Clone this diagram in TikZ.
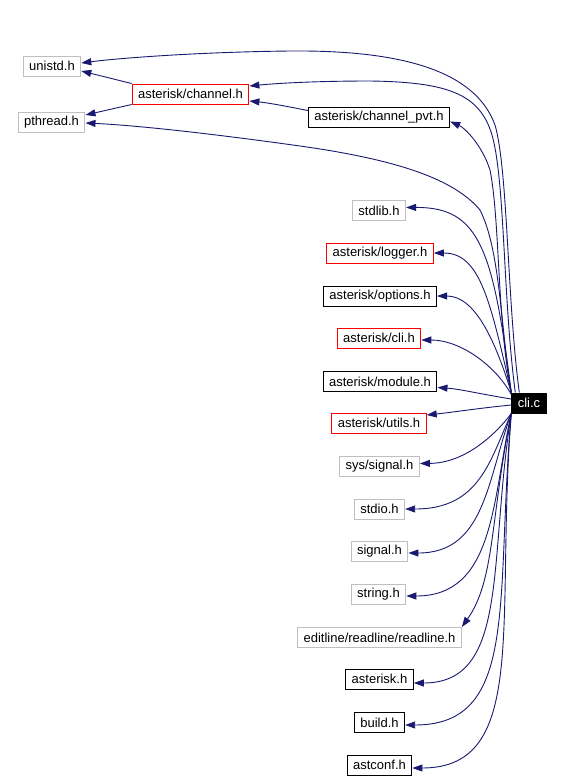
\documentclass[tikz,border=0pt]{standalone}
\usepackage{fontspec}
\setmainfont{Liberation Sans}
\usetikzlibrary{arrows.meta}
\definecolor{edgeblue}{HTML}{191970}
\definecolor{boxgray}{HTML}{BFBFBF}
\tikzset{
  file/.style={draw=#1,line width=1pt,minimum height=20pt,inner xsep=6pt,inner ysep=0pt,
    font=\fontsize{13}{15}\selectfont},
  file/.default=black,
  dep/.style={edgeblue,line width=0.9pt,-{Triangle[length=10pt,width=7pt]}}
}
\begin{document}
\begin{tikzpicture}[x=1pt,y=-1pt]
  \useasboundingbox (0,0) rectangle (572,780);
  % included files
  \node[file=boxgray] (unistd) at (52,66) {unistd.h};
  \node[file=boxgray] (pthread) at (51.5,122) {pthread.h};
  \node[file=red] (channel) at (190.5,94) {asterisk/channel.h};
  \node[file] (chanpvt) at (379,117.5) {asterisk/channel\_pvt.h};
  \node[file=boxgray] (stdlib) at (379,210.5) {stdlib.h};
  \node[file=red] (logger) at (380,253) {asterisk/logger.h};
  \node[file] (options) at (380,296) {asterisk/options.h};
  \node[file=red] (clih) at (379,338) {asterisk/cli.h};
  \node[file] (module) at (380,381.5) {asterisk/module.h};
  \node[file=red] (utils) at (379,423) {asterisk/utils.h};
  \node[file=boxgray] (syssignal) at (379.5,466.5) {sys/signal.h};
  \node[file=boxgray] (stdio) at (379.5,509) {stdio.h};
  \node[file=boxgray] (signal) at (379.5,551.5) {signal.h};
  \node[file=boxgray] (string) at (378.5,594) {string.h};
  \node[file=boxgray] (readline) at (379.5,637.5) {editline/readline/readline.h};
  \node[file] (asterisk) at (379.5,679) {asterisk.h};
  \node[file] (build) at (379.5,722.5) {build.h};
  \node[file] (astconf) at (379.5,765) {astconf.h};
  \node[file,fill=black,text=white] (cli) at (529,403) {cli.c};
  % edges between headers
  \draw[dep] (channel.north west) -- ([yshift=-5pt]unistd.east);
  \draw[dep] (channel.south west) -- ([yshift=7pt]pthread.east);
  \draw[dep] ([yshift=7pt]chanpvt.west) .. controls (290,107) and (270,103) .. ([yshift=-7pt]channel.east);
  % edges from cli.c, upper part
  \draw[dep] ([xshift=8pt]cli.north west) .. controls (507,300) and (508,170) .. (495,125)
    .. controls (475,70) and (400,50) .. (290,51) .. controls (200,52) and (120,58) .. ([yshift=3pt]unistd.east);
  \draw[dep] ([xshift=4pt]cli.north west) .. controls (503,300) and (505,180) .. (492,135)
    .. controls (480,95) and (450,82) .. (370,81) .. controls (320,81) and (280,83) .. ([yshift=8pt]channel.east);
  \draw[dep] (cli.north west) .. controls (497,320) and (500,220) .. (490,170)
    .. controls (482,145) and (465,128) .. ([yshift=-4pt]chanpvt.east);
  \draw[dep] (cli.north west) .. controls (500,320) and (500,250) .. (480,210)
    .. controls (455,180) and (400,160) .. (300,146) .. controls (200,132) and (130,125) .. ([yshift=-1pt]pthread.east);
  \draw[dep] (cli.north west) .. controls (493,250) and (480,207) .. ([yshift=3pt]stdlib.east);
  \draw[dep] (cli.north west) .. controls (490,300) and (480,253) .. (logger.east);
  \draw[dep] (cli.north west) .. controls (495,340) and (475,296) .. (options.east);
  \draw[dep] ([yshift=-2pt]cli.north west) .. controls (495,365) and (460,340) .. ([yshift=-2pt]clih.east);
  \draw[dep] ([yshift=4pt]cli.west) .. controls (480,394) and (460,389) .. ([yshift=-6pt]module.east);
  \draw[dep] ([yshift=-2pt]cli.west) .. controls (480,408) and (455,412) .. ([yshift=8pt]utils.east);
  % edges from cli.c, lower part
  \draw[dep] (cli.south west) .. controls (495,435) and (465,463) .. ([yshift=3pt]syssignal.east);
  \draw[dep] (cli.south west) .. controls (490,460) and (480,509) .. (stdio.east);
  \draw[dep] (cli.south west) .. controls (487,480) and (485,553) .. ([yshift=-1.5pt]signal.east);
  \draw[dep] (cli.south west) .. controls (492,500) and (495,596) .. ([yshift=-2pt]string.east);
  \draw[dep] (cli.south west) .. controls (490,520) and (495,580) .. (readline.north east);
  \draw[dep] (cli.south west) .. controls (488,560) and (510,683) .. ([yshift=-4pt]asterisk.east);
  \draw[dep] (cli.south west) .. controls (495,600) and (520,725) .. ([yshift=-2.5pt]build.east);
  \draw[dep] (cli.south west) .. controls (495,620) and (530,768) .. ([yshift=-3pt]astconf.east);
\end{tikzpicture}
\end{document}
